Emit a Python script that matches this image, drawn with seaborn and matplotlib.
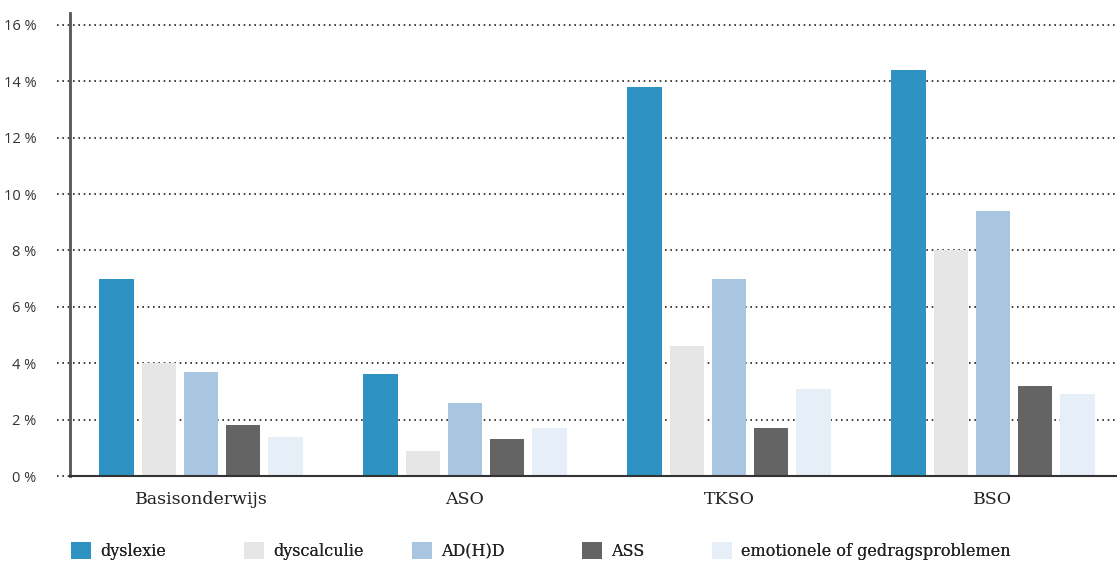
import matplotlib
matplotlib.use('Agg')
import matplotlib.pyplot as plt
import pandas as pd
import seaborn as sns

# data
niveaus = ['Basisonderwijs', 'ASO', 'TKSO', 'BSO']
stoornissen = ['dyslexie', 'dyscalculie', 'AD(H)D', 'ASS', 'emotionele of gedragsproblemen']
dyslexie = [7.0, 3.6, 13.8, 14.4]
dyscalculie = [4.0, 0.9, 4.6, 8.0]
adhd = [3.7, 2.6, 7.0, 9.4]
ass = [1.8, 1.3, 1.7, 3.2]
emotioneel = [1.4, 1.7, 3.1, 2.9]
kleuren = ['#2E93C3', '#E6E6E6', '#A9C6E0', '#646464', '#E6EEF7']
yticks = [0, 2, 4, 6, 8, 10, 12, 14, 16]

rows = []
for naam, reeks in zip(stoornissen, [dyslexie, dyscalculie, adhd, ass, emotioneel]):
    for niv, v in zip(niveaus, reeks):
        rows.append({'niveau': niv, 'stoornis': naam, 'pct': v})
df = pd.DataFrame(rows)

sns.set_style('white')
fig = plt.figure(figsize=(11.17, 5.61), dpi=100)
ax = fig.add_axes([70 / 1117, 1 - 476 / 561, 1 - 70 / 1117, (476 - 13) / 561])

sns.barplot(data=df, x='niveau', y='pct', hue='stoornis', order=niveaus,
            hue_order=stoornissen, palette=kleuren, width=0.8, gap=0.19,
            saturation=1, linewidth=0, ax=ax, zorder=3)

ax.set_xlim(-0.496, 3.47)
ax.set_ylim(0, 16.42)

# dotted gridlines, sticking out a bit left of the axis
for t in yticks:
    ax.axhline(t, xmin=-0.012, xmax=1, color='#222222', linestyle=(0, (1, 2.2)),
               linewidth=1.2, clip_on=False, zorder=1)

ax.set_yticks(yticks)
ax.set_yticklabels([f'{t} %' for t in yticks], fontsize=10.5, color='#333333',
                   family='Open Sans')
ax.tick_params(axis='y', length=0, pad=24)
ax.tick_params(axis='x', length=0, pad=11)
for lbl in ax.get_xticklabels():
    lbl.set_family('DejaVu Serif')
    lbl.set_fontsize(12.5)
    lbl.set_color('#222222')
ax.set_xlabel('')
ax.set_ylabel('')

for s in ['top', 'right']:
    ax.spines[s].set_visible(False)
ax.spines['left'].set_color('#555555')
ax.spines['left'].set_linewidth(2)
ax.spines['left'].set_zorder(4)
ax.spines['bottom'].set_color('#333333')
ax.spines['bottom'].set_linewidth(1.5)
ax.spines['bottom'].set_zorder(4)

# legend entries spread along the bottom like the original
handles, labels = ax.get_legend_handles_labels()
ax.legend_.remove()
leg_x = [57, 230, 398, 568, 698]
for h, l, x in zip(handles, labels, leg_x):
    lg = fig.legend([h], [l], loc='center left', bbox_to_anchor=(x / 1117, 1 - 551 / 561),
                    frameon=False, handlelength=1.25, handleheight=1.25, handletextpad=0.55,
                    prop={'family': 'DejaVu Serif', 'size': 11.5})
    for t in lg.get_texts():
        t.set_color('#222222')
    fig.add_artist(lg)

fig.savefig('out.png', dpi=100)
